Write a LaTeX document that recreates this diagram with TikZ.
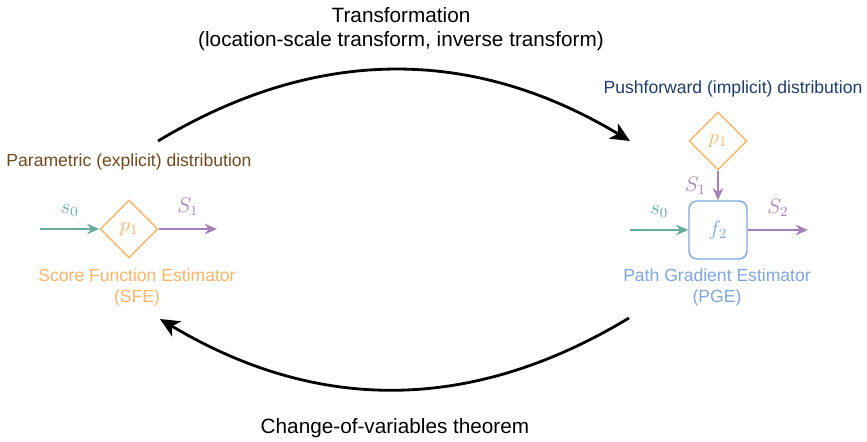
\documentclass[tikz,border=0pt]{standalone}
\usepackage{fontspec}
\setmainfont{Liberation Sans}
\usetikzlibrary{shapes.geometric,arrows.meta,positioning}
\definecolor{sfeorange}{RGB}{255,179,102}
\definecolor{pgeblue}{RGB}{126,166,224}
\definecolor{seedgreen}{RGB}{103,171,159}
\definecolor{samplepurple}{RGB}{166,128,184}
\definecolor{explbrown}{RGB}{112,72,28}
\definecolor{implnavy}{RGB}{30,60,110}

\begin{document}
\begin{tikzpicture}[x=0.02cm, y=-0.02cm,
  dist/.style={diamond, aspect=1, draw=sfeorange, line width=0.8pt, inner sep=0pt,
    minimum width=1.16cm, minimum height=1.16cm, text=sfeorange},
  fbox/.style={draw=pgeblue, line width=0.8pt, rounded corners=0.16cm,
    minimum width=1.16cm, minimum height=1.16cm, text=pgeblue},
  mlab/.style={font=\fontsize{12}{14}\selectfont},
  big/.style={font=\fontsize{11.8}{14}\selectfont, align=center},
  small/.style={font=\fontsize{10}{12}\selectfont, align=center},
  flow/.style={line width=1pt, -{Stealth[length=7pt, width=6pt]}},
  trans/.style={line width=1.6pt, -{Stealth[length=11pt, width=10pt, inset=3pt]}}]
\useasboundingbox (0,0) rectangle (867,442);

% left: score function estimator
\node[dist, mlab] (p1l) at (129,229) {$p_1$};
\coordinate (s0l) at (40,229);
\coordinate (s1l) at (217,229);
\draw[flow, seedgreen] (s0l) -- (p1l.west) node[midway, above=3pt, mlab] {$s_0$};
\draw[flow, samplepurple] (p1l.east) -- (s1l) node[midway, above=4pt, mlab] {$S_1$};
\node[small, text=explbrown] (expl) at (129,162) {Parametric (explicit) distribution};
\node[small, text=sfeorange] (sfe) at (137,287) {Score Function Estimator\\(SFE)};

% right: path gradient estimator
\node[dist, mlab] (p1r) at (718,141) {$p_1$};
\node[fbox, mlab] (f2) at (718,230) {$f_2$};
\coordinate (s0r) at (630,230);
\coordinate (s2r) at (808,230);
\draw[flow, samplepurple] (p1r.south) -- (f2.north) node[midway, left=3pt, mlab] {$S_1$};
\draw[flow, seedgreen] (s0r) -- (f2.west) node[midway, above=3pt, mlab] {$s_0$};
\draw[flow, samplepurple] (f2.east) -- (s2r) node[midway, above=4pt, mlab] {$S_2$};
\node[small, text=implnavy] (impl) at (733,89) {Pushforward (implicit) distribution};
\node[small, text=pgeblue] (pge) at (717,287) {Path Gradient Estimator\\(PGE)};

% transformations between the two
\coordinate (topL) at (158,141);
\coordinate (topR) at (630,141);
\coordinate (botR) at (629,318);
\coordinate (botL) at (160,319);
\draw[trans] (topL) to[bend left=31] (topR);
\draw[trans] (botR) to[bend left=31] (botL);
\node[big] (tr) at (401,29) {Transformation\\(location-scale transform, inverse transform)};
\node[big] (cov) at (395,428) {Change-of-variables theorem};
\end{tikzpicture}
\end{document}
